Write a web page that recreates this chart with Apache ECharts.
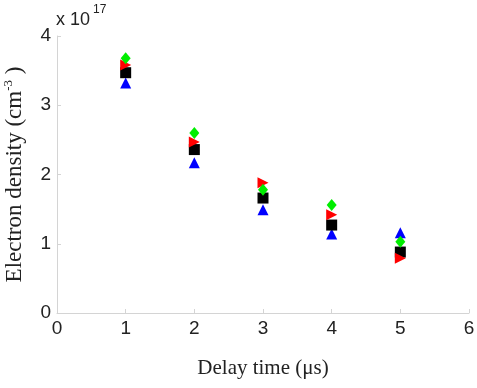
<!DOCTYPE html>
<html>
<head>
<meta charset="utf-8">
<script src="https://cdn.jsdelivr.net/npm/echarts@6/dist/echarts.min.js"></script>
<style>
  html, body { margin: 0; padding: 0; background: #fff; }
  #chart { width: 477px; height: 388px; }
</style>
</head>
<body>
<div id="chart"></div>
<script>
// 数据 (单位: 1e17 cm^-3)
var delayTimes = [1, 2, 3, 4, 5];
var greenVals = [3.68, 2.60, 1.78, 1.56, 1.03];
var redVals = [3.58, 2.47, 1.88, 1.42, 0.79];
var blackVals = [3.47, 2.36, 1.66, 1.27, 0.88];
var blueVals = [3.32, 2.17, 1.49, 1.14, 1.16];

function pairs(vals) {
    var out = [];
    for (var i = 0; i < delayTimes.length; i++) {
        out.push([delayTimes[i], vals[i]]);
    }
    return out;
}

var myChart = echarts.init(document.getElementById('chart'));

var axisGray = '#d4d4d4';
var serif = 'Liberation Serif, Times New Roman, serif';
var labelStyle = { color: '#222', fontSize: 19, fontFamily: 'Liberation Sans, Arial, sans-serif' };

var option = {
    animation: false,
    grid: { left: 57, right: 8, top: 36, bottom: 75, containLabel: false, outerBoundsMode: 'none' },
    xAxis: {
        type: 'value',
        min: 0, max: 6, interval: 1,
        name: 'Delay time (\u03bcs)',
        nameLocation: 'middle',
        nameGap: 45,
        nameTextStyle: { color: '#222', fontSize: 21, fontFamily: serif },
        axisLine: { show: true, lineStyle: { color: axisGray, width: 1 } },
        axisTick: { show: true, inside: true, length: 4, lineStyle: { color: axisGray } },
        axisLabel: { margin: 6, color: labelStyle.color, fontSize: labelStyle.fontSize, fontFamily: labelStyle.fontFamily },
        splitLine: { show: false }
    },
    yAxis: {
        type: 'value',
        min: 0, max: 4, interval: 1,
        name: '{n|Electron density (cm}{s|-3}{n| )}',
        nameLocation: 'middle',
        nameGap: 30,
        nameTextStyle: {
            rich: {
                n: { color: '#222', fontSize: 23, fontFamily: serif },
                s: { color: '#222', fontSize: 13, fontFamily: serif, verticalAlign: 'top', padding: [0, 0, 12, 0] }
            }
        },
        axisLine: { show: true, lineStyle: { color: axisGray, width: 1 } },
        axisTick: { show: true, inside: true, length: 4, lineStyle: { color: axisGray } },
        axisLabel: { margin: 6, color: labelStyle.color, fontSize: labelStyle.fontSize, fontFamily: labelStyle.fontFamily },
        splitLine: { show: false }
    },
    graphic: [
        {
            type: 'text', left: 56, top: 11,
            style: { text: 'x 10', fill: '#222', font: '18px "Liberation Sans", Arial, sans-serif' }
        },
        {
            type: 'text', left: 93, top: 4,
            style: { text: '17', fill: '#222', font: '12px "Liberation Sans", Arial, sans-serif' }
        }
    ],
    series: [
        {
            name: 'blue', type: 'scatter', data: pairs(blueVals),
            symbol: 'triangle', symbolSize: 11,
            itemStyle: { color: '#0000ff', opacity: 1 }
        },
        {
            name: 'black', type: 'scatter', data: pairs(blackVals),
            symbol: 'rect', symbolSize: 11,
            itemStyle: { color: '#000000', opacity: 1 }
        },
        {
            name: 'red', type: 'scatter', data: pairs(redVals),
            symbol: 'triangle', symbolSize: 11, symbolRotate: -90,
            itemStyle: { color: '#ff0000', opacity: 1 }
        },
        {
            name: 'green', type: 'scatter', data: pairs(greenVals),
            symbol: 'diamond', symbolSize: [10, 12],
            itemStyle: { color: '#00ee00', opacity: 1 }
        }
    ]
};

myChart.setOption(option);
</script>
</body>
</html>
